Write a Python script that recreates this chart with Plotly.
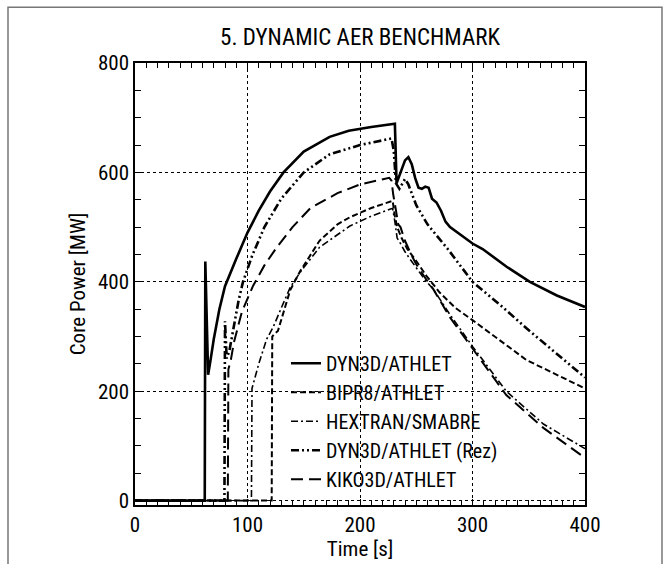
import plotly.graph_objects as go

# ---------------- data ----------------
t_dyn3d = [0, 62.0, 62.5, 63.5, 65.0, 67, 70, 75, 80, 90, 100, 110, 120, 132, 150, 173, 190, 210,
           231, 232.5, 236, 240, 243, 246, 249, 252, 255, 258, 261, 264, 268, 272, 276, 280, 290,
           300, 309, 330, 351, 375, 400]
p_dyn3d = [0, 0, 437, 330, 230, 255, 295, 350, 392, 442, 490, 530, 565, 600, 638, 665, 676, 683,
           689, 580, 600, 622, 628, 615, 590, 572, 570, 574, 572, 552, 545, 530, 510, 500, 485,
           470, 460, 428, 400, 375, 354]

t_bipr8 = [0, 121.5, 122, 124, 127, 130, 134, 138, 147, 156, 164, 180, 191, 210, 227, 229, 231,
           233, 237, 242, 250, 259, 271, 285, 300, 348, 400]
p_bipr8 = [0, 0, 300, 305, 310, 330, 360, 385, 420, 450, 475, 505, 518, 535, 547, 548, 520,
           500, 480, 460, 438, 411, 380, 352, 330, 257, 205]

t_hextran = [0, 103.5, 104, 107, 110, 117, 123, 130, 138, 147, 164, 191, 210, 227, 229, 231, 233,
             236, 240, 245, 250, 258, 265, 280, 300, 330, 363, 400]
p_hextran = [0, 0, 205, 228, 250, 295, 318, 352, 390, 418, 463, 502, 520, 533, 534, 510, 480,
             470, 455, 440, 425, 403, 387, 340, 282, 200, 140, 95]

t_rez = [0, 79.5, 80, 81.5, 84, 88, 92, 96, 104, 115, 130, 150, 173, 200, 228, 230, 232, 235,
         240, 243, 250, 260, 270, 278, 300, 325, 348, 375, 400]
p_rez = [0, 0, 328, 260, 275, 320, 365, 400, 447, 500, 552, 600, 633, 650, 662, 640, 580, 570,
         588, 578, 540, 505, 480, 460, 400, 357, 315, 268, 225]

t_kiko = [0, 82.5, 83, 85, 88, 95, 105, 115, 126, 140, 156, 180, 200, 220, 226, 228, 229.5, 232,
          234, 236, 240, 245, 250, 258, 265, 280, 300, 330, 363, 400]
p_kiko = [0, 0, 240, 255, 290, 345, 393, 430, 463, 500, 535, 562, 578, 588, 590, 585, 560, 530,
          505, 500, 475, 452, 432, 407, 387, 335, 278, 193, 133, 78]

names = ["DYN3D/ATHLET", "BIPR8/ATHLET", "HEXTRAN/SMABRE", "DYN3D/ATHLET (Rez)", "KIKO3D/ATHLET"]
title_text = "5. DYNAMIC AER BENCHMARK"
x_title = "Time [s]"
y_title = "Core Power [MW]"

# ---------------- styling ----------------
FONT = "Roboto Condensed, Liberation Sans Narrow, Arial Narrow, sans-serif"
series = [
    (t_dyn3d, p_dyn3d, dict(color="black", width=2.6, dash="solid")),
    (t_bipr8, p_bipr8, dict(color="black", width=2.0, dash="6px,3px")),
    (t_hextran, p_hextran, dict(color="black", width=1.6, dash="7px,3px,2px,3px")),
    (t_rez, p_rez, dict(color="black", width=2.6, dash="8px,3px,2px,3px,2px,3px")),
    (t_kiko, p_kiko, dict(color="black", width=2.0, dash="12px,6px")),
]

fig = go.Figure()
for (tx, py, ln), nm in zip(series, names):
    fig.add_trace(go.Scatter(x=tx, y=py, mode="lines", name=nm, line=ln))

L, R, T, B = 135, 86, 63, 57
W, H = 671, 564
pw, ph = W - L - R, H - T - B

def px_to_paper_x(px):
    return (px - L) / pw

def px_to_paper_y(py):
    return (H - B - py) / ph

axis_common = dict(
    showline=True, linecolor="black", linewidth=1.5, mirror="allticks",
    ticks="inside", ticklen=6, tickcolor="black", tickwidth=1,
    showgrid=True, gridcolor="black", griddash="dot", gridwidth=1,
    zeroline=False, tickfont=dict(family=FONT, size=21, color="black"),
)

fig.update_xaxes(range=[0, 400], dtick=100, tick0=0,
                 minor=dict(dtick=10, ticks="inside", ticklen=5, tickcolor="black", showgrid=False),
                 title=dict(text=x_title, font=dict(family=FONT, size=21, color="black"), standoff=0),
                 **axis_common)
fig.update_yaxes(range=[-8, 800], dtick=200, tick0=0,
                 minor=dict(dtick=50, ticks="inside", ticklen=6, tickcolor="black", showgrid=False),
                 title=dict(text=y_title, font=dict(family=FONT, size=21, color="black"), standoff=7),
                 **axis_common)

fig.add_shape(type="rect", xref="paper", yref="paper",
              x0=px_to_paper_x(8), x1=px_to_paper_x(662),
              y0=px_to_paper_y(580), y1=px_to_paper_y(7),
              line=dict(color="#777777", width=1.5), fillcolor="rgba(0,0,0,0)", layer="below")

fig.update_layout(
    width=W, height=H,
    margin=dict(l=L, r=R, t=T, b=B),
    paper_bgcolor="white", plot_bgcolor="white",
    title=dict(text=title_text, x=0.5, xref="paper", xanchor="center",
               y=1 - 37 / H, yanchor="middle",
               font=dict(family=FONT, size=23, color="black")),
    legend=dict(x=px_to_paper_x(286), y=px_to_paper_y(345), xanchor="left", yanchor="top",
                bgcolor="rgba(0,0,0,0)", borderwidth=0,
                font=dict(family=FONT, size=20, color="black"),
                tracegroupgap=0, itemwidth=30),
    showlegend=True,
)

fig.write_html("out.html")
